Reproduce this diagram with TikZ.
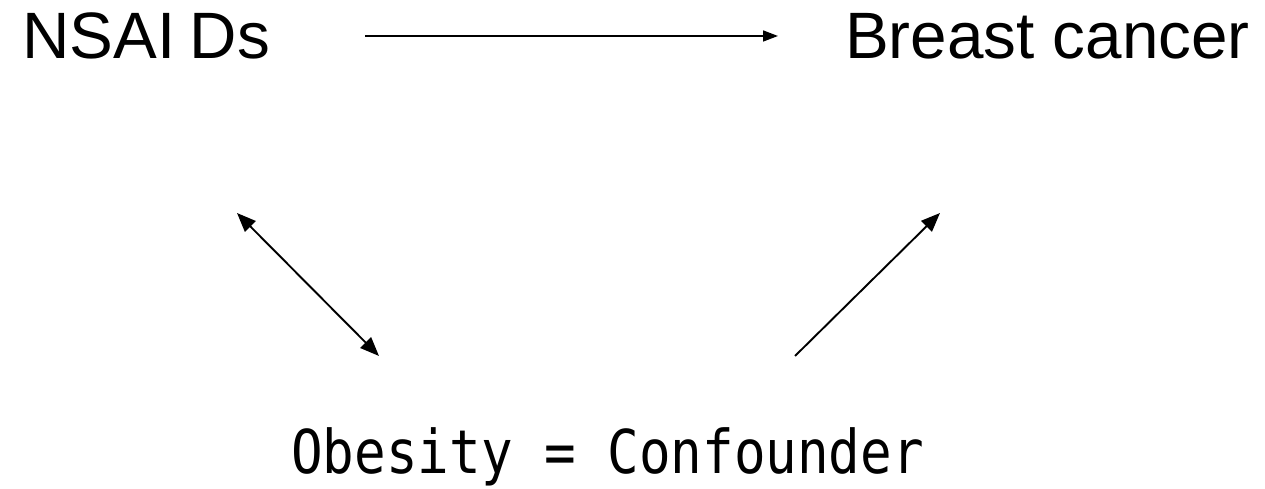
\documentclass[tikz,border=0pt]{standalone}
\usepackage{fontspec}
\setmainfont{Liberation Sans}
\newfontfamily\gothfont[FakeStretch=0.87]{DejaVu Sans Mono}
\usetikzlibrary{positioning,calc,arrows.meta}
\definecolor{txt}{HTML}{000000}
\definecolor{lnB}{HTML}{000000}

\begin{document}
\begin{tikzpicture}[x=1pt,y=1pt,text=txt,>={Triangle[length=15pt,width=11pt]},
  lbl/.style={inner sep=0pt,anchor=base west,font=\fontsize{65.6}{70}\selectfont},
  cfd/.style={inner sep=0pt,anchor=base west,font=\gothfont\fontsize{60.4}{66}\selectfont},
  ln/.style={draw=lnB,line width=1.6pt},
  dg/.style={ln,line width=1.9pt,>={Triangle[length=19pt,width=15pt]}}]
\useasboundingbox (0,0) rectangle (1265,489);

\node[lbl] (nsaid) at (22,430) {NSAI\kern0.22em Ds};
\node[lbl] (cancer) at (845,430) {Breast cancer};
\node[cfd] (obes) at (291,15) {Obesity = Confounder};

% arrow ends
\coordinate (nsR) at (365,453);
\coordinate (caL) at (778,453);
\coordinate (nsB) at (237,276);
\coordinate (obL) at (379,133);
\coordinate (obR) at (795,133);
\coordinate (caB) at (940,276);

\draw[ln,->] (nsR) -- (caL);
\draw[dg,<->] (nsB) -- (obL);
\draw[dg,->] (obR) -- (caB);

\end{tikzpicture}
\end{document}
